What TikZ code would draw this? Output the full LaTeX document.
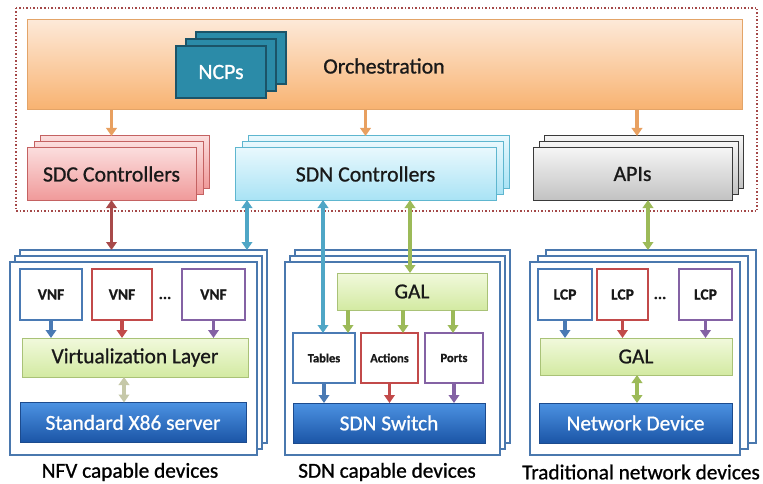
\documentclass[tikz,border=0pt]{standalone}
\usepackage{fontspec}
\setmainfont{Carlito}[RawFeature={embolden=0.9}]
\usetikzlibrary{arrows.meta,calc}

\definecolor{orchTop}{HTML}{FDE9D8}
\definecolor{orchBot}{HTML}{F8B270}
\definecolor{orchLine}{HTML}{E3A468}
\definecolor{ncpFill}{HTML}{2B8BA8}
\definecolor{ncpLine}{HTML}{1B5468}
\definecolor{sdcTop}{HTML}{FBDDDD}
\definecolor{sdcBot}{HTML}{F09A9A}
\definecolor{sdcLine}{HTML}{C46262}
\definecolor{sdnTop}{HTML}{E8F8FD}
\definecolor{sdnBot}{HTML}{A9E3F5}
\definecolor{sdnLine}{HTML}{5EB6CF}
\definecolor{apiTop}{HTML}{F5F5F5}
\definecolor{apiBot}{HTML}{C2C2C2}
\definecolor{apiLine}{HTML}{3A3A3A}
\definecolor{devLine}{HTML}{4A78AE}
\definecolor{galTop}{HTML}{F1F9DC}
\definecolor{galBot}{HTML}{D3EAA2}
\definecolor{galLine}{HTML}{A9C277}
\definecolor{hwTop}{HTML}{4C92E2}
\definecolor{hwBot}{HTML}{1B55A6}
\definecolor{hwLine}{HTML}{1C4B8E}
\definecolor{cBlue}{HTML}{4A7AB4}
\definecolor{cRed}{HTML}{C24A4A}
\definecolor{cPurple}{HTML}{8462A4}
\definecolor{aOrange}{HTML}{E8A060}
\definecolor{aTeal}{HTML}{4FA6C6}
\definecolor{aGreen}{HTML}{9CBA58}
\definecolor{aBrown}{HTML}{A84A4A}
\definecolor{aPale}{HTML}{C6C8A8}
\definecolor{frameRed}{HTML}{A44848}

\tikzset{
  every node/.style={inner sep=0pt, outer sep=0pt, text=black!90},
  orchbox/.style={draw=orchLine, line width=1pt, top color=orchTop, bottom color=orchBot},
  ncpbox/.style={draw=ncpLine, line width=1.2pt, fill=ncpFill, minimum width=90pt, minimum height=52pt},
  sdcbox/.style={draw=sdcLine, line width=1pt, top color=sdcTop, bottom color=sdcBot, minimum width=169pt, minimum height=52pt},
  sdnbox/.style={draw=sdnLine, line width=1pt, top color=sdnTop, bottom color=sdnBot, minimum width=261pt, minimum height=52pt},
  apibox/.style={draw=apiLine, line width=1pt, top color=apiTop, bottom color=apiBot, minimum width=199pt, minimum height=52pt},
  devframe/.style={draw=devLine, line width=2pt, fill=white, minimum height=193pt},
  galbox/.style={draw=galLine, line width=1pt, top color=galTop, bottom color=galBot},
  hwbox/.style={draw=hwLine, line width=1pt, top color=hwTop, bottom color=hwBot, text=white, minimum height=40pt},
  fnbox/.style={draw=#1, line width=1.7pt, fill=white, minimum height=51pt},
  big/.style={font=\fontsize{21.8}{25}\selectfont},
  mid/.style={font=\fontsize{21.4}{25}\selectfont},
  small/.style={font=\bfseries\fontsize{15.5}{18}\selectfont},
  tiny/.style={font=\bfseries\fontsize{12.5}{14}\selectfont},
  caption/.style={font=\fontsize{21.3}{25}\selectfont, text=black},
  arr/.style={draw=#1, line width=3.2pt, -{Triangle[length=8pt,width=10.5pt]}},
  darr/.style={draw=#1, line width=3.2pt, {Triangle[length=8pt,width=10.5pt]}-{Triangle[length=8pt,width=10.5pt]}},
}

\begin{document}
\begin{tikzpicture}[x=1pt, y=-1pt]
\useasboundingbox (0,0) rectangle (763,484);

% control and orchestration domain
\draw[frameRed, line width=1.5pt, dotted] (16,8) rectangle (757,211);

% orchestration layer
\node[orchbox, minimum width=715pt, minimum height=90pt] (orch) at (384.5,65) {};
\node[big] (orchtxt) at (384,66) {Orchestration};
\node[ncpbox] (ncpC) at (241,58) {};
\node[ncpbox] (ncpB) at (231,65) {};
\node[ncpbox, text=white, big] (ncp) at (221,72) {NCPs};

% controllers
\node[sdcbox] (sdcC) at (124.5,162) {};
\node[sdcbox] (sdcB) at (118.5,168) {};
\node[sdcbox, big] (sdc) at (111.5,174) {SDC Controllers};

\node[sdnbox] (sdnC) at (378.5,162) {};
\node[sdnbox] (sdnB) at (372.5,168) {};
\node[sdnbox, big] (sdn) at (365.5,174) {SDN Controllers};

\node[apibox] (apiC) at (643.5,162) {};
\node[apibox] (apiB) at (638.5,168) {};
\node[apibox, big] (api) at (632.5,174) {APIs};

% NFV capable devices
\node[devframe, minimum width=247pt] (nfvC) at (143.5,346.5) {};
\node[devframe, minimum width=247pt] (nfvB) at (138.5,352.5) {};
\node[devframe, minimum width=247pt] (nfv) at (133.5,358.5) {};
\node[fnbox=cBlue, minimum width=62pt, small] (vnfA) at (51,294.5) {VNF};
\node[fnbox=cRed, minimum width=60pt, small] (vnfB) at (122,294.5) {VNF};
\node[small] (vnfdots) at (165,298) {...};
\node[fnbox=cPurple, minimum width=63pt, small] (vnfC) at (213.5,294.5) {VNF};
\node[galbox, minimum width=226pt, minimum height=39pt, mid] (virt) at (135,357.5) {Virtualization Layer};
\node[hwbox, minimum width=226pt, mid] (x86) at (133,422.5) {Standard X86 server};
\node[caption] (nfvcap) at (130,472) {NFV capable devices};

% SDN capable devices
\node[devframe, minimum width=215pt] (sdndC) at (402.5,346.5) {};
\node[devframe, minimum width=215pt] (sdndB) at (397.5,352.5) {};
\node[devframe, minimum width=215pt] (sdnd) at (392.5,358.5) {};
\node[galbox, minimum width=150pt, minimum height=37pt, mid] (gal) at (412,291.5) {GAL};
\node[fnbox=cBlue, minimum width=62pt, minimum height=50pt, tiny] (tables) at (324,358) {Tables};
\node[fnbox=cRed, minimum width=57pt, minimum height=50pt, tiny] (actions) at (389.5,358) {Actions};
\node[fnbox=cPurple, minimum width=58pt, minimum height=50pt, tiny] (ports) at (454,358) {Ports};
\node[hwbox, minimum width=192pt, mid] (switch) at (389,423) {SDN Switch};
\node[caption] (sdncap) at (387,472) {SDN capable devices};

% traditional network devices
\node[devframe, minimum width=210pt] (tndC) at (651,346.5) {};
\node[devframe, minimum width=210pt] (tndB) at (643,352.5) {};
\node[devframe, minimum width=210pt] (tnd) at (635,358.5) {};
\node[fnbox=cBlue, minimum width=54pt, small] (lcpA) at (565,294.5) {LCP};
\node[fnbox=cRed, minimum width=51pt, small] (lcpB) at (622.5,294.5) {LCP};
\node[small] (lcpdots) at (660,298) {...};
\node[fnbox=cPurple, minimum width=53pt, small] (lcpC) at (705.5,294.5) {LCP};
\node[galbox, minimum width=192pt, minimum height=37pt, mid] (galt) at (636,356.5) {GAL};
\node[hwbox, minimum width=193pt, mid] (netdev) at (635.5,423) {Network Device};
\node[caption] (tradcap) at (641,472) {Traditional network devices};

% orchestration to controllers
\draw[arr=aOrange] (orch.south -| sdc.north) -- (sdc.north |- sdcC.north);
\draw[arr=aOrange] (orch.south -| sdn.north) -- (sdn.north |- sdnC.north);
\draw[arr=aOrange] ([xshift=4.5pt]orch.south -| api.north) -- ([xshift=4.5pt]api.north |- apiC.north);

% controllers to devices
\draw[darr=aBrown] (sdc.south) -- (sdc.south |- nfvC.north);
\draw[darr=aTeal] ([xshift=12pt]sdn.south west) -- ([xshift=12pt]sdn.south west |- nfvC.north);
\draw[darr=aTeal] ([xshift=-1pt]sdn.south -| tables.north) -- ([xshift=-1pt]tables.north);
\draw[darr=aGreen] ([xshift=-2pt]sdn.south -| gal.north) -- ([xshift=-2pt]gal.north);
\draw[darr=aGreen] ([xshift=15.5pt]api.south) -- ([xshift=15.5pt]api.south |- tndC.north);

% inside the NFV device
\draw[arr=cBlue] (vnfA.south) -- (vnfA.south |- virt.north);
\draw[arr=cRed] (vnfB.south) -- (vnfB.south |- virt.north);
\draw[arr=cPurple] (vnfC.south) -- (vnfC.south |- virt.north);
\draw[darr=aPale] ([xshift=-11pt]virt.south) -- ([xshift=-11pt]virt.south |- x86.north);

% inside the SDN device
\draw[arr=aGreen] ([xshift=-64pt]gal.south) -- ([xshift=-64pt]gal.south |- tables.north);
\draw[arr=aGreen] ([xshift=-9pt]gal.south) -- ([xshift=-9pt]gal.south |- actions.north);
\draw[arr=aGreen] ([xshift=41pt]gal.south) -- ([xshift=41pt]gal.south |- ports.north);
\draw[arr=cBlue] (tables.south) -- (tables.south |- switch.north);
\draw[arr=cRed] (actions.south) -- (actions.south |- switch.north);
\draw[arr=cPurple] (ports.south) -- (ports.south |- switch.north);

% inside the traditional device
\draw[arr=cBlue] (lcpA.south) -- (lcpA.south |- galt.north);
\draw[arr=cRed] (lcpB.south) -- (lcpB.south |- galt.north);
\draw[arr=cPurple] (lcpC.south) -- (lcpC.south |- galt.north);
\draw[darr=aGreen] ([xshift=1pt]galt.south) -- ([xshift=1pt]galt.south |- netdev.north);
\end{tikzpicture}
\end{document}
